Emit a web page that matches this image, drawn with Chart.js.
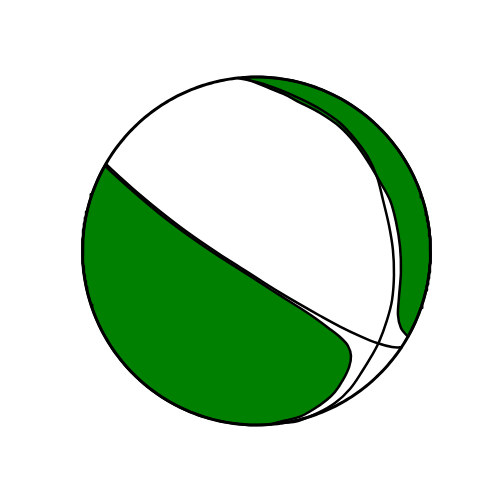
<!DOCTYPE html>
<html>
<head>
<meta charset="utf-8">
<script src="https://cdn.jsdelivr.net/npm/chart.js@4/dist/chart.umd.min.js"></script>
<style>
  html, body { margin: 0; padding: 0; background: #ffffff; }
  #wrap { width: 500px; height: 500px; position: relative; }
</style>
</head>
<body>
<div id="wrap"><canvas id="c"></canvas></div>
<script>
// Beachball (focal sphere, radius 100 units) — curves
// Compressional lobe A (lower-left): inner boundary, from bottom rim to upper-left apex
const lobeAEdge = [
  [7.7,-99.7],[16.4,-97.4],[25.0,-95.2],[33.0,-90.8],[40.3,-85.6],[45.1,-81.0],
  [49.7,-74.1],[53.2,-66.7],[54.3,-60.3],[52.6,-54.6],[48.6,-50.0],[41.7,-44.5],
  [33.6,-38.5],[25.0,-32.8],[13.5,-25.5],[2.0,-18.1],[-9.5,-10.7],[-21.0,-3.4],
  [-32.5,4.3],[-44.0,12.5],[-55.5,21.3],[-67.0,30.9],[-77.3,39.9],[-87.1,48.9]
];
// rim arc of lobe A, degrees (from apex round the left and bottom)
const lobeAArc = [150.7, 274.4];

// Compressional lobe B (right crescent): inner boundary, from top rim to lower-right tip
const lobeBEdge = [
  [-8.0,99.7],[4.9,94.6],[15.2,90.4],[25.0,85.3],[36.5,79.3],[48.0,71.3],
  [56.6,62.1],[63.5,52.3],[70.4,40.8],[76.7,29.3],[80.2,16.7],[82.5,2.3],
  [83.0,-12.1],[81.9,-26.4],[81.3,-36.8],[83.0,-44.3],[87.1,-49.4]
];
// rim arc of lobe B, degrees (from tip up the right side to the top)
const lobeBArc = [-29.6, 94.6];

// Nodal line 1 (upper-left to lower-right)
const nodal1 = [
  [-86.6,50.0],[-77.3,41.4],[-67.0,32.3],[-55.5,22.8],[-44.0,13.9],[-32.5,5.7],
  [-21.0,-2.0],[-9.5,-9.3],[2.0,-16.7],[13.5,-23.9],[25.0,-30.7],[36.5,-37.2],
  [48.0,-43.4],[59.5,-48.9],[69.3,-52.9],[77.9,-55.2],[83.3,-55.4]
];
// Nodal line 2 (top, down the right side, to the bottom)
const nodal2 = [
  [-10.6,99.4],[2.0,96.6],[13.5,92.6],[25.0,87.6],[36.5,81.6],[48.0,73.6],
  [56.6,64.4],[64.1,54.0],[69.3,42.5],[72.7,29.3],[76.1,14.9],[78.4,0.6],
  [79.0,-13.8],[77.9,-28.2],[75.0,-39.7],[70.4,-52.3],[65.8,-60.9],[61.2,-68.4],
  [53.7,-79.3],[45.1,-87.4],[35.3,-93.1],[23.9,-97.7],[14.6,-98.9]
];

const R = 100;
function arc(a0, a1, step) {
  const pts = [];
  const n = Math.max(2, Math.ceil(Math.abs(a1 - a0) / step));
  for (let i = 0; i <= n; i++) {
    const a = (a0 + (a1 - a0) * i / n) * Math.PI / 180;
    pts.push({x: R * Math.cos(a), y: R * Math.sin(a)});
  }
  return pts;
}
const toXY = arr => arr.map(p => ({x: p[0], y: p[1]}));

const polyA = arc(lobeAArc[0], lobeAArc[1], 2).concat(toXY(lobeAEdge));
const polyB = arc(lobeBArc[0], lobeBArc[1], 2).concat(toXY(lobeBEdge));
const rim = arc(0, 360, 1);

const GREEN = '#008000';
new Chart(document.getElementById('c'), {
  type: 'scatter',
  data: {
    datasets: [
      { data: polyA, showLine: true, fill: 'shape', backgroundColor: GREEN,
        borderColor: '#000', borderWidth: 2.5, tension: 0.3, pointRadius: 0, order: 5 },
      { data: polyB, showLine: true, fill: 'shape', backgroundColor: GREEN,
        borderColor: '#000', borderWidth: 2.5, tension: 0.3, pointRadius: 0, order: 4 },
      { data: toXY(nodal1), showLine: true, fill: false, borderColor: '#000',
        borderWidth: 2.5, tension: 0.35, pointRadius: 0, order: 3 },
      { data: toXY(nodal2), showLine: true, fill: false, borderColor: '#000',
        borderWidth: 2.5, tension: 0.35, pointRadius: 0, order: 2 },
      { data: rim, showLine: true, fill: false, borderColor: '#000',
        borderWidth: 3, tension: 0, pointRadius: 0, order: 1 }
    ]
  },
  options: {
    responsive: true,
    maintainAspectRatio: false,
    animation: false,
    layout: { padding: 0 },
    plugins: { legend: { display: false }, tooltip: { enabled: false } },
    elements: { line: { borderJoinStyle: 'round', borderCapStyle: 'round' } },
    scales: {
      x: { type: 'linear', display: false, min: -147.41, max: 139.94 },
      y: { type: 'linear', display: false, min: -143.10, max: 144.25 }
    }
  }
});
</script>
</body>
</html>
